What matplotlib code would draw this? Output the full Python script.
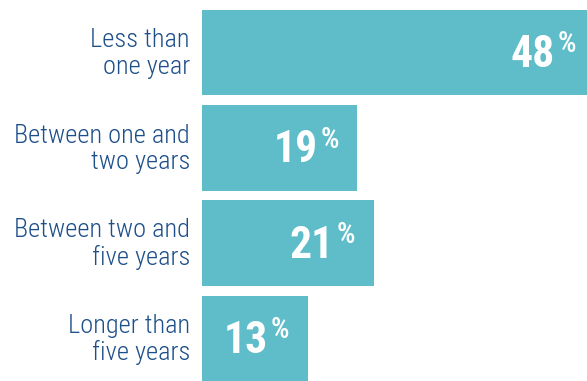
import matplotlib
matplotlib.use("Agg")
import matplotlib.pyplot as plt

categories = ["Less than\none year", "Between one and\ntwo years", "Between two and\nfive years", "Longer than\nfive years"]
values = [48, 19, 21, 13]

font = "Roboto Condensed"
bar_color = "#5ebdc9"
text_color = "#1d4f8a"

PX = 47.07 / 385  # data units per pixel (x)
PY = 1 / 95.3     # data units per pixel (y)

fig = plt.figure(figsize=(5.87, 3.81), dpi=100)
ax = fig.add_axes([202/587, 0, 385/587, 1])
ypos = list(range(len(values)))
ax.barh(ypos, values, height=0.9, color=bar_color)
ax.set_xlim(0, 47.07)
ax.set_ylim(3 + 42.5/95.3, -52.5/95.3)
ax.axis("off")

for y, cat, v in zip(ypos, categories, values):
    ax.text(-12*PX, y + 1*PY, cat, ha="right", va="center", fontsize=19,
            color=text_color, family=[font, "DejaVu Sans"], fontweight=300,
            linespacing=1.12)
    xe = v - 40*PX
    yb = y + 14.5*PY
    ax.text(xe, yb, f"{v}", ha="right", va="baseline", fontsize=31.5,
            color="white", family=[font, "DejaVu Sans"], fontweight="bold")
    ax.annotate("%", xy=(xe, yb), xycoords="data", xytext=(2.0, 10.5),
                textcoords="offset points", ha="left", va="baseline",
                fontsize=21, color="white", family=[font, "DejaVu Sans"],
                fontweight=500)

fig.savefig("out.png", dpi=100)
